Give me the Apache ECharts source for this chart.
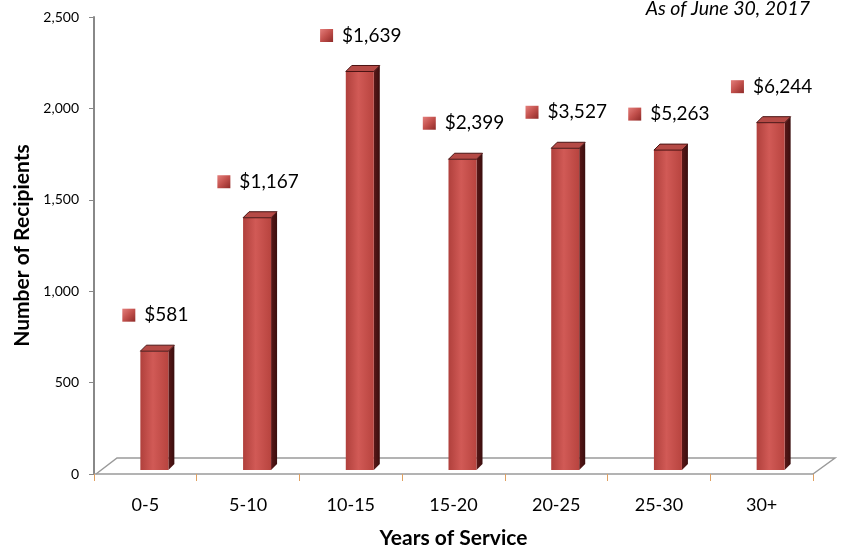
<!DOCTYPE html>
<html>
<head>
<meta charset="utf-8">
<script src="https://cdn.jsdelivr.net/npm/echarts@6/dist/echarts.min.js"></script>
<style>html,body{margin:0;padding:0;background:#fff}#c{width:843px;height:548px}</style>
</head>
<body>
<div id="c"></div>
<script>
const categories = ['0-5', '5-10', '10-15', '15-20', '20-25', '25-30', '30+'];
const recipients = [650, 1380, 2180, 1700, 1760, 1750, 1900];
const avgBenefit = ['$581', '$1,167', '$1,639', '$2,399', '$3,527', '$5,263', '$6,244'];
const yTicks = [0, 500, 1000, 1500, 2000, 2500];

const FONT = 'Lato, "Open Sans", sans-serif';
const chart = echarts.init(document.getElementById('c'));

function fmt(v) { return String(v).replace(/\B(?=(\d{3})+(?!\d))/g, ','); }

function renderBar(params, api) {
  const i = api.value(0);
  const v = api.value(1);
  const base = api.coord([i, 0]);
  const top = api.coord([i, v]);
  const cx = base[0];
  const yb = base[1] - 4;
  const yt = top[1] - 4;
  const x0 = cx - 5, w = 28, dx = 6, dy = -6;
  const front = {
    type: 'rect',
    shape: { x: x0, y: yt, width: w, height: yb - yt },
    style: {
      fill: new echarts.graphic.LinearGradient(0, 0, 1, 0, [
        { offset: 0, color: '#b0403c' },
        { offset: 0.45, color: '#d15a56' },
        { offset: 1, color: '#b8443f' }
      ])
    }
  };
  const side = {
    type: 'polygon',
    shape: { points: [[x0 + w, yt], [x0 + w + dx, yt + dy], [x0 + w + dx, yb + dy], [x0 + w, yb]] },
    style: { fill: new echarts.graphic.LinearGradient(0, 0, 1, 0, [
      { offset: 0, color: '#5a1818' }, { offset: 1, color: '#3a0e0e' }]) }
  };
  const topFace = {
    type: 'polygon',
    shape: { points: [[x0, yt], [x0 + dx, yt + dy], [x0 + w + dx, yt + dy], [x0 + w, yt]] },
    style: { fill: '#b54a46', stroke: '#4a1414', lineWidth: 1 }
  };
  const label = {
    type: 'text',
    style: {
      x: cx + 10,
      y: yt - 36,
      align: 'center',
      verticalAlign: 'middle',
      text: '{m|}{t|' + avgBenefit[params.dataIndex] + '}',
      rich: {
        m: {
          width: 13, height: 13,
          backgroundColor: new echarts.graphic.LinearGradient(0, 0, 1, 1, [
            { offset: 0, color: '#e47f7c' }, { offset: 0.5, color: '#c2504c' }, { offset: 1, color: '#8e2a28' }])
        },
        t: { fontSize: 19, fontFamily: FONT, color: '#000', padding: [0, 0, 0, 9] }
      }
    }
  };
  return { type: 'group', children: [side, front, topFace, label] };
}

function renderFloor(params, api) {
  const cs = params.coordSys;
  const yb = cs.y + cs.height;
  const xl = cs.x, xr = cs.x + cs.width;
  return {
    type: 'polyline',
    shape: { points: [[xl + 2, yb], [xl + 23, yb - 16], [xr + 22, yb - 16], [xr, yb]] },
    style: { stroke: '#9a9a9a', lineWidth: 1.5, fill: null }
  };
}

chart.setOption({
  animation: false,
  title: {
    text: 'As of June 30, 2017',
    right: 33, top: 0, padding: 0,
    textStyle: { fontStyle: 'italic', fontWeight: 'normal', fontSize: 19.5, fontFamily: FONT, color: '#000', lineHeight: 18 }
  },
  grid: { left: 94, right: 30, top: 17, bottom: 74, containLabel: false, outerBoundsMode: 'none' },
  xAxis: {
    type: 'category',
    data: categories,
    name: 'Years of Service',
    nameLocation: 'middle',
    nameGap: 54,
    nameTextStyle: { fontWeight: 'bold', fontSize: 21, fontFamily: FONT, color: '#000' },
    axisLine: { lineStyle: { color: '#9a9a9a', width: 1.5 } },
    axisTick: { show: true, length: 7, lineStyle: { color: '#e0a060' } },
    axisLabel: { fontSize: 18, fontFamily: FONT, color: '#000', margin: 22 }
  },
  yAxis: {
    type: 'value',
    min: yTicks[0], max: yTicks[yTicks.length - 1], interval: 500,
    name: 'Number of Recipients',
    nameLocation: 'middle',
    nameRotate: 90,
    nameGap: 61,
    nameTextStyle: { fontWeight: 'bold', fontSize: 21, fontFamily: FONT, color: '#000' },
    axisLine: { show: true, lineStyle: { color: '#888', width: 2 } },
    axisTick: { show: true, length: 5, lineStyle: { color: '#888' } },
    splitLine: { show: false },
    axisLabel: { fontSize: 14, fontFamily: FONT, color: '#000', margin: 15, formatter: fmt }
  },
  series: [
    {
      type: 'custom',
      renderItem: renderFloor,
      data: [[0, 0]],
      silent: true,
      z: 1
    },
    {
      type: 'custom',
      renderItem: renderBar,
      data: recipients.map((v, i) => [i, v]),
      encode: { x: 0, y: 1 },
      z: 2
    }
  ]
});
</script>
</body>
</html>
